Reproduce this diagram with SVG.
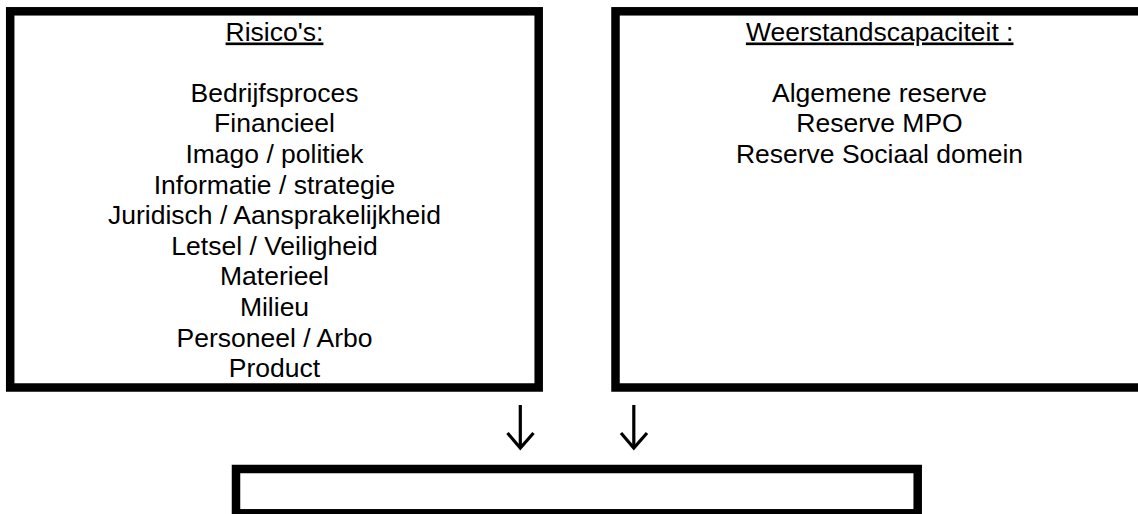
<svg xmlns="http://www.w3.org/2000/svg" width="1138" height="514" viewBox="0 0 1138 514">
<style>
.box{fill:#fff;stroke:#000;stroke-width:8.5}
.t{font-family:"Liberation Sans",Arial,sans-serif;font-size:26.5px;fill:#000;text-anchor:middle}
.u{text-decoration:underline}
.arr{fill:none;stroke:#000;stroke-width:3.2}
</style>
<rect width="1138" height="514" fill="#fff"/>
<g id="risicos">
<rect class="box" x="10.2" y="11.3" width="528.5" height="376.2"/>
<text class="t u" x="274.5" y="40.5">Risico's:</text>
<text class="t" x="274.5" y="101.7">Bedrijfsproces</text>
<text class="t" x="274.5" y="132.3">Financieel</text>
<text class="t" x="274.5" y="162.9">Imago / politiek</text>
<text class="t" x="274.5" y="193.5">Informatie / strategie</text>
<text class="t" x="274.5" y="224.1">Juridisch / Aansprakelijkheid</text>
<text class="t" x="274.5" y="254.7">Letsel / Veiligheid</text>
<text class="t" x="274.5" y="285.3">Materieel</text>
<text class="t" x="274.5" y="315.9">Milieu</text>
<text class="t" x="274.5" y="346.5">Personeel / Arbo</text>
<text class="t" x="274.5" y="377.1">Product</text>
</g>
<g id="weerstandscapaciteit">
<rect class="box" x="615.5" y="11.3" width="530" height="376.2"/>
<text class="t u" x="879.7" y="40.5">Weerstandscapaciteit :</text>
<text class="t" x="879.5" y="101.7">Algemene reserve</text>
<text class="t" x="879.5" y="132.3">Reserve MPO</text>
<text class="t" x="879.5" y="162.9">Reserve Sociaal domein</text>
</g>
<g id="resultaat">
<rect class="box" x="236" y="469" width="681.7" height="44.3"/>
</g>
<g id="connectors">
<path class="arr" d="M520.3 405V448"/>
<path class="arr" d="M507.5 433L520.3 448L533.5 433"/>
<path class="arr" d="M633.8 405V448"/>
<path class="arr" d="M621 433L633.8 448L647 433"/>
</g>
</svg>
